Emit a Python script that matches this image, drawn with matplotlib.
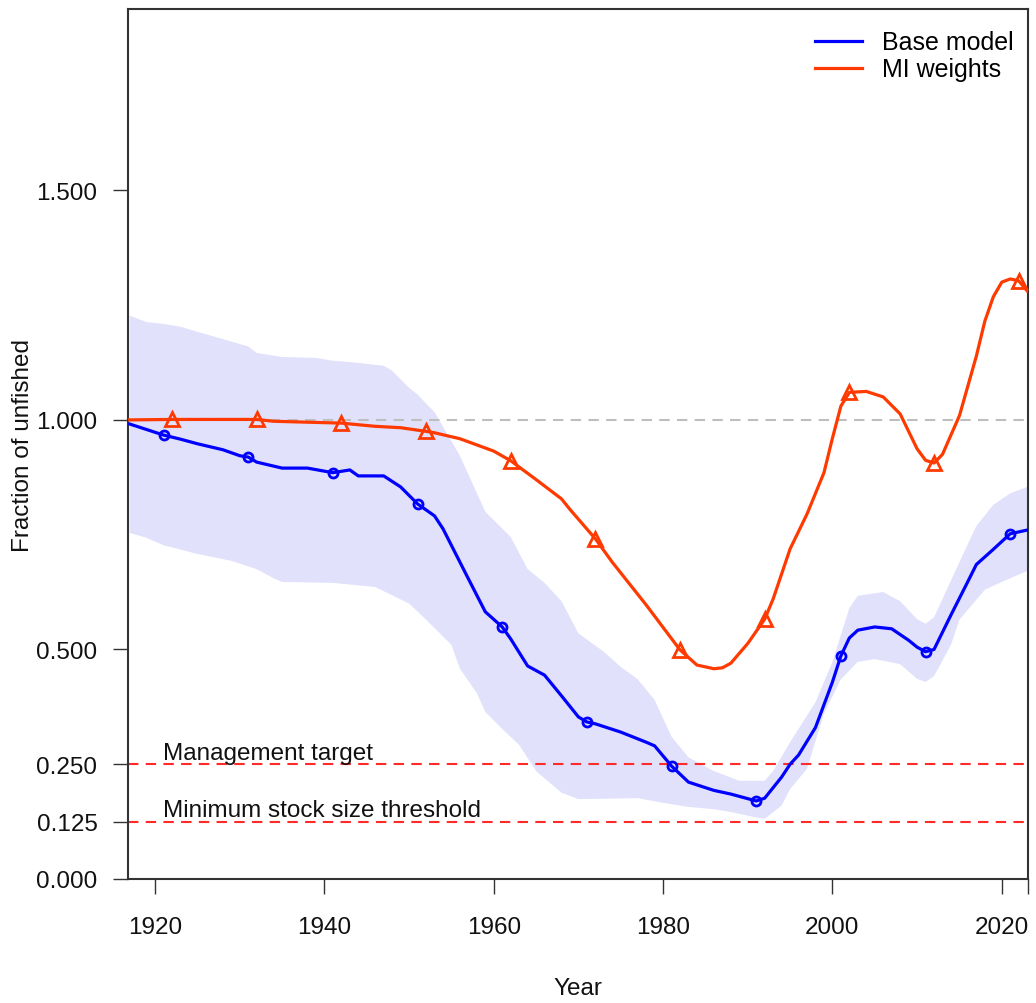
import numpy as np
import matplotlib
matplotlib.use("Agg")
import matplotlib.pyplot as plt

plt.rcParams["font.family"] = ["Liberation Sans", "DejaVu Sans"]

# base model: spawning output relative to unfished
base_yr = [1917, 1921, 1923, 1925, 1928, 1930, 1931, 1932, 1935, 1938, 1941, 1943, 1944,
           1947, 1949, 1951, 1953, 1954, 1957, 1959, 1961, 1962, 1964, 1966, 1968, 1970,
           1971, 1972, 1975, 1978, 1979, 1981, 1983, 1986, 1988, 1991, 1992, 1994, 1995,
           1996, 1998, 2000, 2001, 2002, 2003, 2005, 2007, 2009, 2010, 2011, 2012, 2014,
           2016, 2017, 2019, 2021, 2023]
base_val = [0.991, 0.967, 0.958, 0.948, 0.935, 0.922, 0.919, 0.908, 0.895, 0.895, 0.885,
            0.891, 0.878, 0.878, 0.854, 0.817, 0.791, 0.763, 0.654, 0.582, 0.549, 0.523,
            0.464, 0.444, 0.399, 0.353, 0.342, 0.338, 0.320, 0.298, 0.290, 0.246, 0.211,
            0.193, 0.185, 0.170, 0.176, 0.222, 0.250, 0.270, 0.330, 0.429, 0.486, 0.525,
            0.542, 0.549, 0.545, 0.520, 0.505, 0.495, 0.500, 0.575, 0.648, 0.685, 0.718,
            0.752, 0.760]
base_marks = [1921, 1931, 1941, 1951, 1961, 1971, 1981, 1991, 2001, 2011, 2021]

# base model interval
upper_yr = [1917, 1919, 1921, 1923, 1925, 1928, 1931, 1932, 1935, 1939, 1941, 1943, 1947,
            1948, 1950, 1951, 1953, 1956, 1959, 1962, 1964, 1966, 1968, 1970, 1973, 1975,
            1977, 1979, 1981, 1983, 1986, 1989, 1992, 1993, 1995, 1998, 2000, 2002, 2003,
            2006, 2008, 2010, 2011, 2012, 2015, 2017, 2019, 2021, 2023]
upper_val = [1.227, 1.213, 1.209, 1.203, 1.192, 1.176, 1.160, 1.146, 1.137, 1.135, 1.129,
             1.126, 1.118, 1.107, 1.070, 1.055, 1.017, 0.922, 0.800, 0.745, 0.675, 0.645,
             0.605, 0.535, 0.495, 0.462, 0.435, 0.390, 0.310, 0.265, 0.235, 0.214, 0.214,
             0.235, 0.298, 0.385, 0.473, 0.590, 0.617, 0.625, 0.605, 0.566, 0.556, 0.570,
             0.690, 0.769, 0.815, 0.840, 0.854]
lower_yr = [1917, 1919, 1921, 1925, 1929, 1932, 1934, 1935, 1941, 1946, 1950, 1952, 1955,
            1956, 1958, 1959, 1961, 1963, 1965, 1968, 1970, 1977, 1980, 1983, 1986, 1988,
            1991, 1992, 1994, 1995, 1997, 1998, 1999, 2001, 2003, 2005, 2008, 2010, 2011,
            2012, 2014, 2015, 2018, 2020, 2023]
lower_val = [0.754, 0.743, 0.727, 0.708, 0.693, 0.675, 0.655, 0.647, 0.645, 0.636, 0.600,
             0.565, 0.510, 0.458, 0.405, 0.364, 0.327, 0.292, 0.235, 0.188, 0.174, 0.176,
             0.166, 0.157, 0.152, 0.146, 0.134, 0.131, 0.160, 0.196, 0.240, 0.300, 0.360,
             0.435, 0.473, 0.479, 0.468, 0.436, 0.429, 0.442, 0.510, 0.565, 0.630, 0.647,
             0.671]

# MI weights run
mi_yr = [1917, 1922, 1932, 1934, 1942, 1946, 1949, 1952, 1953, 1956, 1960, 1962, 1965,
         1968, 1969, 1972, 1974, 1978, 1982, 1984, 1986, 1987, 1988, 1990, 1992, 1993,
         1995, 1997, 1999, 2000, 2001, 2002, 2004, 2006, 2008, 2010, 2011, 2012, 2013,
         2015, 2017, 2018, 2019, 2020, 2021, 2022, 2023]
mi_val = [1.000, 1.001, 1.001, 0.997, 0.993, 0.986, 0.983, 0.975, 0.972, 0.959, 0.932,
          0.911, 0.870, 0.828, 0.805, 0.741, 0.690, 0.597, 0.499, 0.466, 0.458, 0.460,
          0.470, 0.513, 0.566, 0.610, 0.719, 0.795, 0.885, 0.960, 1.030, 1.060, 1.062,
          1.050, 1.013, 0.937, 0.912, 0.906, 0.925, 1.009, 1.139, 1.215, 1.268, 1.300,
          1.307, 1.303, 1.281]
mi_marks = [1922, 1932, 1942, 1952, 1962, 1972, 1982, 1992, 2002, 2012, 2022]

labels = ["Base model", "MI weights"]
colors = ["#0000FF", "#FF3A00"]
target, msst = 0.25, 0.125
yticks = [0.0, 0.125, 0.25, 0.5, 1.0, 1.5]

fig = plt.figure(figsize=(10.36, 10.04), dpi=100)
ax = fig.add_axes([128 / 1036, 124 / 1004, 900 / 1036, 870 / 1004])

ax.fill(np.r_[upper_yr, lower_yr[::-1]], np.r_[upper_val, lower_val[::-1]],
        color="#E1E1FC", lw=0, zorder=1)

ax.axhline(1.0, color="#BEBEBE", lw=1.5, dashes=(5, 3.5), zorder=2)
ax.axhline(target, color="#FF2A2A", lw=1.5, dashes=(5, 3.5), zorder=2)
ax.axhline(msst, color="#FF2A2A", lw=1.5, dashes=(5, 3.5), zorder=2)
ax.text(1920.9, target + 0.012, "Management target", fontsize=17.5, va="baseline",
        color="#111111")
ax.text(1920.9, msst + 0.012, "Minimum stock size threshold", fontsize=17.5,
        va="baseline", color="#111111")

ax.plot(base_yr, base_val, color=colors[0], lw=2.3, label=labels[0], zorder=4)
ax.plot(mi_yr, mi_val, color=colors[1], lw=2.3, label=labels[1], zorder=3)
bi = [base_yr.index(y) for y in base_marks]
mi = [mi_yr.index(y) for y in mi_marks]
ax.plot([base_yr[i] for i in bi], [base_val[i] for i in bi], ls="none", marker="o",
        ms=6.5, mfc="none", mec=colors[0], mew=2, zorder=5)
ax.plot([mi_yr[i] for i in mi], [mi_val[i] for i in mi], ls="none", marker="^",
        ms=10.5, mfc="none", mec=colors[1], mew=2, zorder=5)

ax.set_xlim(1916.8, 2023.1)
ax.set_ylim(0, 1.895)
ax.set_xticks(range(1920, 2021, 20))
ax.set_xticks([2023.1], minor=True)
ax.set_yticks(yticks)
ax.set_yticklabels([f"{v:.3f}" for v in yticks])
ax.tick_params(axis="both", which="both", direction="out", length=11, width=1,
               color="#333333", labelsize=17.5, labelcolor="#111111")
ax.tick_params(axis="x", pad=16)
ax.tick_params(axis="y", pad=11)
for s in ax.spines.values():
    s.set_color("#333333")
    s.set_linewidth(1.5)

ax.set_xlabel("Year", fontsize=17.5, labelpad=28, color="#111111")
ax.set_ylabel("Fraction of unfished", fontsize=17.5, color="#111111")
ax.yaxis.set_label_coords(-94 / 900, 0.5)

ax.legend(loc="upper right", bbox_to_anchor=(1 + 7 / 900, 1), frameon=False,
          fontsize=18, handlelength=1.9, handletextpad=0.8, labelspacing=0.12,
          borderpad=0.3, borderaxespad=0.55)

fig.savefig("out.png", dpi=100)
